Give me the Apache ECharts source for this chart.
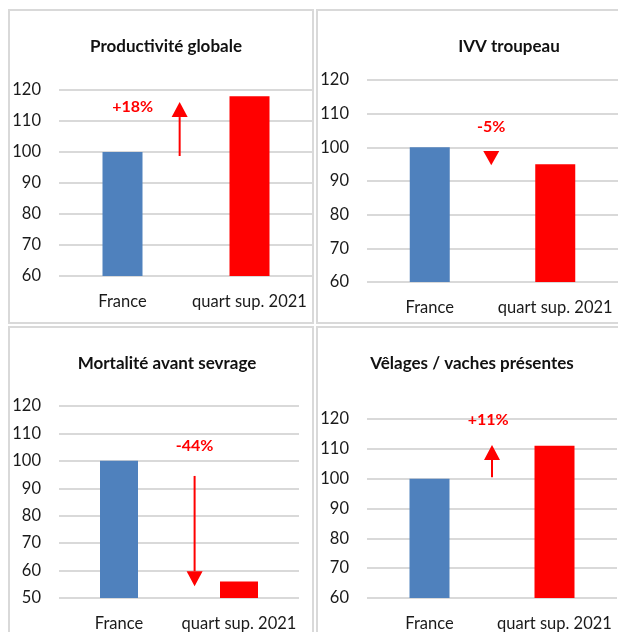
<!DOCTYPE html>
<html>
<head>
<meta charset="utf-8">
<script src="https://cdn.jsdelivr.net/npm/echarts@6/dist/echarts.min.js"></script>
<style>
html,body{margin:0;padding:0;background:#fff;}
#c{width:618px;height:632px;}
</style>
</head>
<body>
<div id="c"></div>
<script>
// ---- data ----
const categories = ['France', 'quart sup. 2021'];
const panelTitles = ['Productivité globale', 'IVV troupeau', 'Mortalité avant sevrage', 'Vêlages / vaches présentes'];
const franceValues = [100, 100, 100, 100];
const quartValues = [118, 95, 56, 111];
const yMinValues = [60, 60, 50, 60];
const yMaxValues = [120, 120, 120, 120];
const yInterval = 10;
const changeLabels = ['+18%', '-5%', '-44%', '+11%'];
const arrowFrom = [98.7, 98.9, 94.5, 100.5];
const arrowTo = [116.1, 94.7, 54.3, 111.3];
const changeLabelAt = [114.5, 106, 105.4, 119.7];

// ---- layout / style ----
const FONT = 'Lato';
const grids = [
  {left: 59, top: 90, width: 254, height: 186},
  {left: 367, top: 80, width: 254, height: 202},
  {left: 59, top: 406, width: 240, height: 192},
  {left: 367, top: 419, width: 250, height: 179}
];
const titlePos = [[161, 44], [504, 44], [162, 361], [467, 361]];
const barWidths = [40, 40, 38, 40];
const arrowXFrac = [0.45, 0.49, 0.63, 0.5];
const labelXFrac = [0.08, 0.49, 0.63, 0.47];
const BLUE = '#4F81BD', RED = '#FF0000', GRID = '#d9d9d9';

const chart = echarts.init(document.getElementById('c'), null, {renderer: 'canvas'});

const option = {
  animation: false,
  backgroundColor: '#fff',
  title: panelTitles.map((t, i) => ({
    text: t, left: titlePos[i][0], top: titlePos[i][1] - 11, textAlign: 'center',
    textStyle: {fontFamily: FONT, fontWeight: 'bold', fontSize: 17, color: '#111'}
  })),
  grid: grids.map(g => Object.assign({containLabel: false}, g)),
  xAxis: grids.map((g, i) => ({
    type: 'category', gridIndex: i, data: categories,
    axisLine: {show: false}, axisTick: {show: false},
    axisLabel: {fontFamily: FONT, fontSize: 16.5, color: '#1a1a1a', margin: 17, interval: 0}
  })),
  yAxis: grids.map((g, i) => ({
    type: 'value', gridIndex: i, min: yMinValues[i], max: yMaxValues[i], interval: yInterval,
    axisLine: {show: false}, axisTick: {show: false},
    axisLabel: {fontFamily: FONT, fontSize: 16.5, color: '#1a1a1a', margin: 18},
    splitLine: {lineStyle: {color: GRID, width: 2}}
  })),
  graphic: [
    {type: 'rect', shape: {x: 9, y: 10, width: 304, height: 313}, style: {fill: 'none', stroke: GRID, lineWidth: 2}, z: -1},
    {type: 'rect', shape: {x: 317, y: 10, width: 310, height: 313}, style: {fill: 'none', stroke: GRID, lineWidth: 2}, z: -1},
    {type: 'rect', shape: {x: 9, y: 327, width: 304, height: 320}, style: {fill: 'none', stroke: GRID, lineWidth: 2}, z: -1},
    {type: 'rect', shape: {x: 317, y: 327, width: 310, height: 320}, style: {fill: 'none', stroke: GRID, lineWidth: 2}, z: -1}
  ],
  series: []
};

grids.forEach((g, i) => {
  option.series.push({
    type: 'bar', xAxisIndex: i, yAxisIndex: i, barWidth: barWidths[i],
    data: [
      {value: franceValues[i], itemStyle: {color: BLUE}},
      {value: quartValues[i], itemStyle: {color: RED}}
    ]
  });
  option.series.push({
    type: 'custom', xAxisIndex: i, yAxisIndex: i, z: 5,
    data: [[0, arrowFrom[i], arrowTo[i], changeLabelAt[i]]],
    renderItem: function (params, api) {
      const a = api.coord([0, api.value(1)]);
      const b = api.coord([1, api.value(1)]);
      const x = a[0] + arrowXFrac[i] * (b[0] - a[0]);
      const lx = a[0] + labelXFrac[i] * (b[0] - a[0]);
      const y0 = a[1];
      const y1 = api.coord([0, api.value(2)])[1];
      const ly = api.coord([0, api.value(3)])[1];
      const dir = y1 > y0 ? 1 : -1;
      const len = Math.abs(y1 - y0);
      const headLen = Math.min(15, len);
      const yb = y1 - dir * headLen;
      const children = [];
      if (len > headLen + 0.5) {
        children.push({type: 'line', shape: {x1: x, y1: y0, x2: x, y2: yb}, style: {stroke: RED, lineWidth: 2}});
      }
      children.push({type: 'polygon', shape: {points: [[x - 8, yb], [x + 8, yb], [x, y1]]}, style: {fill: RED}});
      children.push({type: 'text', style: {text: changeLabels[i], x: lx, y: ly, fill: RED, font: 'bold 16px ' + FONT, align: 'center', verticalAlign: 'middle'}});
      return {type: 'group', children: children};
    }
  });
});

chart.setOption(option);
</script>
</body>
</html>
